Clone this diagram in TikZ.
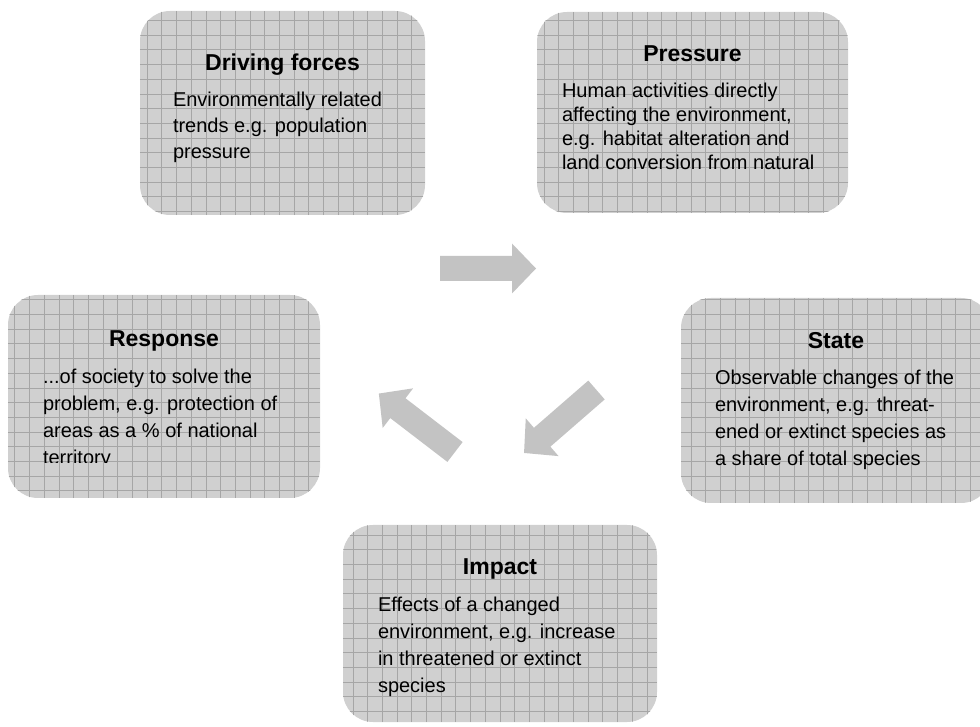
\documentclass[tikz,border=0pt]{standalone}
\usepackage{fontspec}
\setmainfont{Liberation Sans}
\usetikzlibrary{positioning}
\definecolor{panelfill}{HTML}{D0D0D0}
\definecolor{panelgrid}{HTML}{A6A6A6}
\definecolor{flowgray}{HTML}{C3C3C3}
\tikzset{flowarrow/.pic={
    \fill[flowgray] (0,-12.5) -- (72,-12.5) -- (72,-25) -- (96,0) -- (72,25) -- (72,12.5) -- (0,12.5) -- cycle;}}

\begin{document}
\begin{tikzpicture}[x=1pt,y=1pt,
    panel/.style={rounded corners=30pt,fill=panelfill,minimum width=312pt,minimum height=203pt,inner sep=0pt},
    title/.style={font=\fontsize{23}{28}\selectfont\bfseries,anchor=base,inner sep=0pt},
    body/.style={font=\fontsize{20}{27}\selectfont,align=left,anchor=north west,inner sep=0pt}]
    \useasboundingbox (0,0) rectangle (980,726);
    % the five boxes
    \node[panel,minimum width=285pt,minimum height=204pt] (driving) at (282.5,613) {};
    \node[panel,minimum width=311pt,minimum height=201pt] (pressure) at (692.5,613.5) {};
    \node[panel,minimum width=310pt,minimum height=205pt] (state) at (836,325.5) {};
    \node[panel] (response) at (164,329.5) {};
    \node[panel,minimum width=314pt,minimum height=197pt] (impact) at (500,102.5) {};
    \foreach \b in {driving,pressure,state,response,impact} {
        \begin{scope}
            \clip[rounded corners=30pt] (\b.south west) rectangle (\b.north east);
            \draw[panelgrid,line width=0.6pt,step=14.7pt] (\b.south west) grid (\b.north east);
        \end{scope}
    }
    % titles
    \node[title] (drivingtitle)  at ([yshift=-60pt]driving.north)  {Driving forces};
    \node[title] (pressuretitle) at ([yshift=-50pt]pressure.north) {Pressure};
    \node[title] (statetitle)    at ([yshift=-51pt]state.north)    {State};
    \node[title] (responsetitle) at ([yshift=-52pt]response.north) {Response};
    \node[title] (impacttitle)   at ([yshift=-50pt]impact.north)   {Impact};
    % texts
    \node[body,font=\fontsize{20}{26}\selectfont] (drivingtext) at ([xshift=33pt,yshift=-81pt]driving.north west)
        {Environmentally related\\trends e.g. population\\pressure};
    \node[body,font=\fontsize{20}{24}\selectfont] (pressuretext) at ([xshift=25pt,yshift=-71pt]pressure.north west)
        {Human activities directly\\affecting the environment,\\e.g. habitat alteration and\\land conversion from natural};
    \node[body] (statetext) at ([xshift=34pt,yshift=-72pt]state.north west)
        {Observable changes of the\\environment, e.g. threat-\\ened or extinct species as\\a share of total species};
    \begin{scope}
        \clip (response.north west) rectangle ([yshift=-168pt]response.north east);
        \node[body] (responsetext) at ([xshift=35pt,yshift=-74pt]response.north west)
            {...of society to solve the\\problem, e.g. protection of\\areas as a \% of national\\territory};
    \end{scope}
    \node[body] (impacttext) at ([xshift=35pt,yshift=-72pt]impact.north west)
        {Effects of a changed\\environment, e.g. increase\\in threatened or extinct\\species};
    % block arrows
    \coordinate (flowtop)   at (440,457.5);
    \coordinate (flowright) at (596.5,336);
    \coordinate (flowleft)  at (455,274);
    \pic at (flowtop) {flowarrow};
    \pic[rotate=221] at (flowright) {flowarrow};
    \pic[rotate=142.5] at (flowleft) {flowarrow};
\end{tikzpicture}
\end{document}
